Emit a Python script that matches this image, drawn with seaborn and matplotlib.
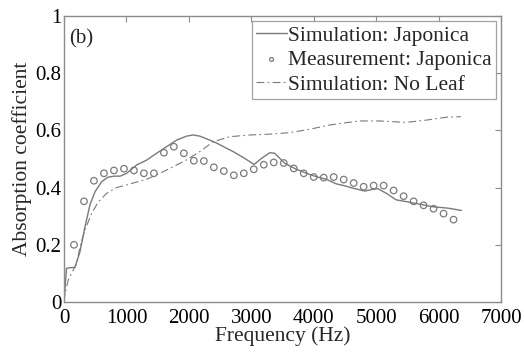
import numpy as np
import pandas as pd
import matplotlib
matplotlib.use("Agg")
import matplotlib.pyplot as plt
import seaborn as sns

# Measured absorption coefficient (Japonica), 160 Hz spacing
meas_freq = [160, 320, 480, 640, 800, 960, 1120, 1280, 1440, 1600, 1760, 1920,
             2080, 2240, 2400, 2560, 2720, 2880, 3040, 3200, 3360, 3520, 3680,
             3840, 4000, 4160, 4320, 4480, 4640, 4800, 4960, 5120, 5280, 5440,
             5600, 5760, 5920, 6080, 6240]
meas_alpha = [0.200, 0.352, 0.424, 0.450, 0.460, 0.466, 0.460, 0.450, 0.450,
              0.522, 0.543, 0.520, 0.494, 0.493, 0.471, 0.458, 0.443, 0.450,
              0.464, 0.480, 0.488, 0.486, 0.467, 0.450, 0.437, 0.435, 0.437,
              0.428, 0.416, 0.403, 0.407, 0.407, 0.390, 0.370, 0.352, 0.338,
              0.326, 0.309, 0.288]

# Simulated absorption coefficient (Japonica)
sim_freq = [0, 40, 100, 176, 256, 336, 416, 496, 600, 700, 800, 900, 1003,
            1163, 1323, 1483, 1643, 1803, 1963, 2069, 2176, 2336, 2443, 2600,
            2709, 2896, 3045, 3163, 3296, 3376, 3536, 3723, 3883, 4043, 4203,
            4363, 4500, 4629, 4816, 4949, 5029, 5163, 5323, 5483, 5696, 5909,
            6155, 6368]
sim_alpha = [0.000, 0.118, 0.120, 0.121, 0.176, 0.263, 0.340, 0.385, 0.420,
             0.436, 0.440, 0.440, 0.450, 0.479, 0.496, 0.520, 0.543, 0.566,
             0.580, 0.584, 0.580, 0.566, 0.556, 0.538, 0.526, 0.502, 0.481,
             0.502, 0.522, 0.520, 0.485, 0.464, 0.450, 0.438, 0.429, 0.413,
             0.406, 0.398, 0.388, 0.394, 0.396, 0.380, 0.357, 0.351, 0.342,
             0.333, 0.328, 0.320]

# Simulated absorption coefficient without leaves
noleaf_freq = [0, 16, 69, 149, 203, 256, 336, 443, 549, 683, 843, 1109, 1323,
               1536, 1749, 1963, 2176, 2389, 2656, 2976, 3296, 3616, 3936,
               4256, 4523, 4736, 5056, 5483, 5803, 6123, 6357]
noleaf_alpha = [0.000, 0.030, 0.077, 0.112, 0.135, 0.193, 0.252, 0.310, 0.350,
                0.380, 0.400, 0.416, 0.429, 0.450, 0.473, 0.497, 0.526, 0.560,
                0.578, 0.584, 0.587, 0.592, 0.604, 0.619, 0.627, 0.633, 0.633,
                0.628, 0.636, 0.646, 0.648]

x_ticks = [0, 1000, 2000, 3000, 4000, 5000, 6000, 7000]
y_ticks = [0, 0.2, 0.4, 0.6, 0.8, 1.0]
y_ticklabels = ["0", "0.2", "0.4", "0.6", "0.8", "1"]

sim_df = pd.DataFrame({"f": sim_freq, "a": sim_alpha})
meas_df = pd.DataFrame({"f": meas_freq, "a": meas_alpha})
noleaf_df = pd.DataFrame({"f": noleaf_freq, "a": noleaf_alpha})

sns.set_style("white")
plt.rcParams["font.family"] = ["Liberation Serif", "DejaVu Serif"]

gray = "#7a7a7a"
frame = "#8c8c8c"

fig = plt.figure(figsize=(5.24, 3.52), dpi=100)
ax = fig.add_axes([64 / 524, 1 - 302 / 352, (501 - 64) / 524, (302 - 16) / 352])

sns.lineplot(data=sim_df, x="f", y="a", ax=ax, color=gray, lw=1.0,
             label="Simulation: Japonica", sort=False)
sns.scatterplot(data=meas_df, x="f", y="a", ax=ax, marker="o", s=22,
                facecolor="none", edgecolor=gray, linewidth=0.9,
                label="Measurement: Japonica")
sns.lineplot(data=noleaf_df, x="f", y="a", ax=ax, color=gray, lw=0.8,
             label="Simulation: No Leaf", sort=False)
ax.lines[-1].set_dashes([7, 3, 1.5, 3])

ax.set_xlim(0, 7000)
ax.set_ylim(0, 1)
ax.set_xticks(x_ticks)
ax.set_xticklabels([str(t) for t in x_ticks])
ax.set_yticks(y_ticks)
ax.set_yticklabels(y_ticklabels)

for s in ax.spines.values():
    s.set_visible(True)
    s.set_color(frame)
    s.set_linewidth(1.0)

ax.tick_params(direction="in", length=4, width=0.8, color=frame,
               top=True, right=True, labelsize=15, colors="black")
ax.tick_params(axis="x", pad=5)
ax.tick_params(axis="y", pad=2)

ax.set_xlabel("Frequency (Hz)", fontsize=15.5, labelpad=-1)
ax.set_ylabel("Absorption coefficient", fontsize=15.5, labelpad=2)

ax.text(0.012, 0.955, "(b)", transform=ax.transAxes, fontsize=15,
        ha="left", va="top")

leg = ax.legend(loc="upper right", fontsize=15.5, frameon=True, fancybox=False,
                handlelength=1.4, handletextpad=0.05, labelspacing=0.2,
                borderpad=0.2, borderaxespad=0.25, markerscale=0.6)
leg.get_frame().set_edgecolor(frame)
leg.get_frame().set_linewidth(0.9)

fig.savefig("out.png", dpi=100)
